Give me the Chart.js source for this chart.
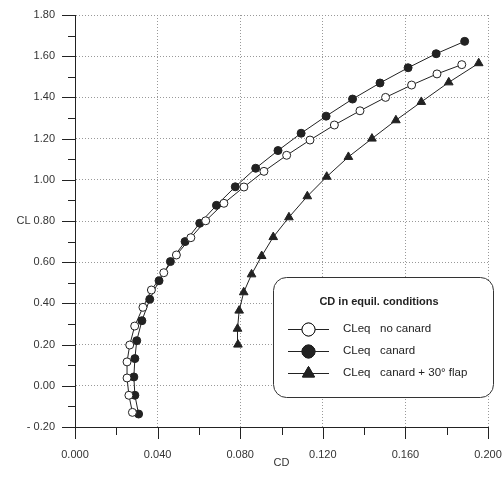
<!DOCTYPE html>
<html>
<head>
<meta charset="utf-8">
<script src="https://cdn.jsdelivr.net/npm/chart.js@4/dist/chart.umd.min.js"></script>
<style>
html,body{margin:0;padding:0;background:#fff;}
#wrap{width:504px;height:480px;}
</style>
</head>
<body>
<div id="wrap"><canvas id="c" width="504" height="480"></canvas></div>
<script>
// ---- data ----
const noCanardCD = [0.0278,0.0261,0.0252,0.0252,0.0265,0.0289,0.0329,0.0370,0.0430,0.0491,0.0561,0.0633,0.0721,0.0818,0.0915,0.1025,0.1138,0.1256,0.1380,0.1504,0.1630,0.1753,0.1873];
const noCanardCL = [-0.129,-0.046,0.038,0.116,0.198,0.290,0.381,0.465,0.549,0.635,0.719,0.801,0.886,0.965,1.041,1.119,1.193,1.266,1.335,1.400,1.460,1.514,1.559];
const canardCD = [0.0308,0.0290,0.0285,0.0290,0.0299,0.0324,0.0362,0.0407,0.0462,0.0533,0.0604,0.0685,0.0776,0.0875,0.0983,0.1095,0.1216,0.1344,0.1477,0.1613,0.1749,0.1887];
const canardCL = [-0.137,-0.046,0.043,0.132,0.219,0.316,0.420,0.510,0.603,0.700,0.789,0.876,0.966,1.056,1.142,1.226,1.309,1.392,1.470,1.544,1.612,1.672];
const flapCD = [0.0789,0.0787,0.0795,0.0817,0.0855,0.0904,0.0960,0.1036,0.1125,0.1219,0.1324,0.1438,0.1554,0.1677,0.1810,0.1955];
const flapCL = [0.200,0.277,0.365,0.454,0.541,0.630,0.722,0.818,0.920,1.015,1.111,1.200,1.289,1.378,1.473,1.566];
const seriesNames = ['no canard','canard','canard + 30\u00b0 flap'];
const seriesPrefix = 'CLeq';
const legendTitle = 'CD in equil. conditions';
const xTitle = 'CD';
const yTitle = 'CL';
const xMin = 0, xMax = 0.2, xStep = 0.04;
const yMin = -0.2, yMax = 1.8, yStep = 0.2;

const toPts = (xs, ys) => xs.map((x, i) => ({x: x, y: ys[i]}));
const INK = '#222';
const FONT = '"Liberation Sans", Arial, sans-serif';

// tick marks & legend drawn by plugin
const decor = {
  id: 'decor',
  afterDraw(chart) {
    const ctx = chart.ctx;
    const xs = chart.scales.x, ys = chart.scales.y;
    const ca = chart.chartArea;
    ctx.save();
    ctx.strokeStyle = INK;
    ctx.lineWidth = 1;
    ctx.beginPath();
    for (let k = 0; k <= Math.round((yMax - yMin) / (yStep / 2)); k++) {
      const v = yMin + k * yStep / 2;
      const py = Math.round(ys.getPixelForValue(v)) + 0.5;
      const len = (k % 2 === 0) ? 13 : 7;
      ctx.moveTo(ca.left - len, py);
      ctx.lineTo(ca.left, py);
    }
    for (let k = 0; k <= Math.round((xMax - xMin) / (xStep / 2)); k++) {
      const v = xMin + k * xStep / 2;
      const px = Math.round(xs.getPixelForValue(v)) + 0.5;
      const len = (k % 2 === 0) ? 12 : 8;
      ctx.moveTo(px, ca.bottom);
      ctx.lineTo(px, ca.bottom + len);
    }
    ctx.stroke();

    // legend box
    const bx = 273.5, by = 277.5, bw = 220, bh = 120, r = 13;
    ctx.beginPath();
    ctx.moveTo(bx + r, by);
    ctx.lineTo(bx + bw - r, by);
    ctx.arcTo(bx + bw, by, bx + bw, by + r, r);
    ctx.lineTo(bx + bw, by + bh - r);
    ctx.arcTo(bx + bw, by + bh, bx + bw - r, by + bh, r);
    ctx.lineTo(bx + r, by + bh);
    ctx.arcTo(bx, by + bh, bx, by + bh - r, r);
    ctx.lineTo(bx, by + r);
    ctx.arcTo(bx, by, bx + r, by, r);
    ctx.closePath();
    ctx.fillStyle = '#fff';
    ctx.fill();
    ctx.strokeStyle = '#333';
    ctx.stroke();

    ctx.fillStyle = INK;
    ctx.font = 'bold 11px ' + FONT;
    ctx.textAlign = 'center';
    ctx.textBaseline = 'middle';
    ctx.fillText(legendTitle, 379, 302);

    const rowsY = [329, 351, 373];
    const styles = [
      {style: 'circle', fill: '#fff', radius: 6.5},
      {style: 'circle', fill: INK, radius: 6.5},
      {style: 'triangle', fill: INK, radius: 7}
    ];
    ctx.font = '11.5px ' + FONT;
    ctx.textAlign = 'left';
    rowsY.forEach((yy, i) => {
      ctx.strokeStyle = INK;
      ctx.lineWidth = 1;
      ctx.beginPath();
      ctx.moveTo(288, yy + 0.5);
      ctx.lineTo(329, yy + 0.5);
      ctx.stroke();
      ctx.fillStyle = styles[i].fill;
      Chart.helpers.drawPoint(ctx, {pointStyle: styles[i].style, radius: styles[i].radius, borderWidth: 1, rotation: 0}, 308.5, yy + 0.5);
      ctx.fill();
      ctx.stroke();
      ctx.fillStyle = INK;
      ctx.fillText(seriesPrefix, 343, yy);
      ctx.fillText(seriesNames[i], 380, yy);
    });
    ctx.restore();
  }
};

new Chart(document.getElementById('c'), {
  type: 'scatter',
  data: {
    datasets: [
      {label: seriesNames[0], data: toPts(noCanardCD, noCanardCL), showLine: true,
       borderColor: INK, borderWidth: 1, pointStyle: 'circle', pointRadius: 4,
       pointBackgroundColor: '#fff', pointBorderColor: INK, pointBorderWidth: 1},
      {label: seriesNames[1], data: toPts(canardCD, canardCL), showLine: true,
       borderColor: INK, borderWidth: 1, pointStyle: 'circle', pointRadius: 4,
       pointBackgroundColor: INK, pointBorderColor: INK, pointBorderWidth: 1},
      {label: seriesNames[2], data: toPts(flapCD, flapCL), showLine: true,
       borderColor: INK, borderWidth: 1, pointStyle: 'triangle', pointRadius: 5,
       pointBackgroundColor: INK, pointBorderColor: INK, pointBorderWidth: 1}
    ]
  },
  options: {
    responsive: false,
    animation: false,
    devicePixelRatio: 1,
    layout: {padding: {left: 0, right: 16, top: 15, bottom: 0}},
    plugins: {legend: {display: false}, tooltip: {enabled: false}},
    scales: {
      x: {
        type: 'linear', min: xMin, max: xMax,
        afterFit: s => { s.height = 53; s.paddingLeft = 0; s.paddingRight = 0; },
        ticks: {stepSize: xStep, padding: 21, color: '#333', font: {family: FONT, size: 11},
                maxRotation: 0, callback: v => Number(v).toFixed(3)},
        grid: {color: '#999', drawTicks: false, lineWidth: 1},
        border: {display: true, color: INK, width: 1, dash: [1, 2]},
        title: {display: true, text: xTitle, color: '#333', font: {family: FONT, size: 11}, padding: {top: 0, bottom: 10}}
      },
      y: {
        type: 'linear', min: yMin, max: yMax,
        afterFit: s => { s.width = 75; s.paddingTop = 0; s.paddingBottom = 0; },
        ticks: {stepSize: yStep, padding: 20, color: '#333', font: {family: FONT, size: 11},
                callback: v => {
                  if (Math.abs(v - 0.8) < 1e-6) return yTitle + ' 0.80';
                  if (v < -1e-6) return '- ' + Math.abs(v).toFixed(2);
                  return Number(v).toFixed(2);
                }},
        grid: {color: '#999', drawTicks: false, lineWidth: 1},
        border: {display: true, color: INK, width: 1, dash: [1, 2]}
      }
    }
  },
  plugins: [decor]
});
</script>
</body>
</html>
